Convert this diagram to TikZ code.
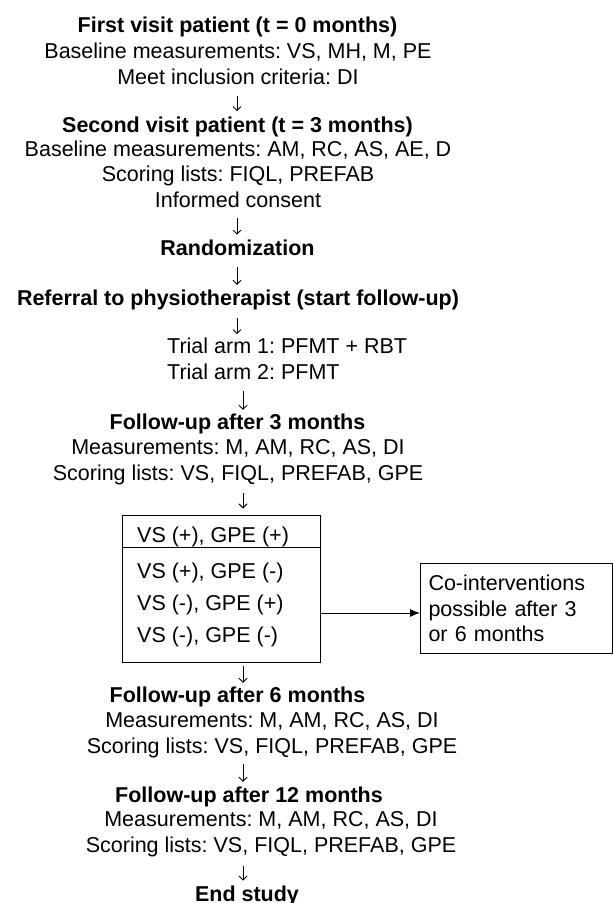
\documentclass[tikz,border=0pt]{standalone}
\usepackage{fontspec}
\setmainfont{Liberation Sans}
\usetikzlibrary{arrows.meta}
\frenchspacing

\newcommand{\flowfont}{\fontsize{21.5}{25.3}\selectfont}

\tikzset{
  head/.style={font=\flowfont\bfseries, inner sep=0pt, anchor=base},
  info/.style={font=\flowfont, align=center, inner sep=0pt, anchor=base},
  row/.style={font=\flowfont, inner sep=0pt, anchor=base west},
  darrow/.style={-{Straight Barb[length=4pt,width=8pt]}, line width=0.9pt},
}

\begin{document}
\begin{tikzpicture}[x=1pt, y=-1pt]
  \useasboundingbox (0,0) rectangle (613,903);

  % visits before randomization (multi-line nodes sit on their last line)
  \node[head] (visit1) at (237.5,32) {First visit patient (t = 0 months)};
  \node[info] (visit1m) at (238,84) {Baseline measurements: VS, MH, M, PE\\Meet inclusion criteria: DI};
  \node[head] (visit2) at (237.5,132) {Second visit patient (t = 3 months)};
  \node[info] (visit2m) at (238,207) {Baseline measurements: AM, RC, AS, AE, D\\Scoring lists: FIQL, PREFAB\\Informed consent};
  \node[head] (rand) at (237.5,255) {Randomization};
  \node[head] (refer) at (238,305) {Referral to physiotherapist (start follow-up)};
  \node[font=\flowfont, align=left, inner sep=0pt, anchor=base west] (arms) at (167,379) {Trial arm 1: PFMT + RBT\\Trial arm 2: PFMT};

  % follow-up 3 months
  \node[head] (fu3) at (237.5,429) {Follow-up after 3 months};
  \node[info] (fu3m) at (238,480) {Measurements: M, AM, RC, AS, DI\\Scoring lists: VS, FIQL, PREFAB, GPE};

  % outcome groups
  \node[draw, line width=1pt, minimum width=198pt, minimum height=147pt, inner sep=0pt] (grp) at (221,588.5) {};
  \node[row] (row1) at (137,542) {VS (+), GPE (+)};
  \node[row] (row2) at (137,578) {VS (+), GPE (-)};
  \node[row] (row3) at (137,610) {VS (-), GPE (+)};
  \node[row] (row4) at (137,642) {VS (-), GPE (-)};
  \draw[line width=1pt] (grp.west |- 0,547) -- (grp.east |- 0,547);

  \node[draw, line width=1pt, font=\flowfont, align=left, text width=176pt, inner xsep=8pt,
        minimum height=90pt, anchor=north west] (co) at (420,563)
        {Co-interventions\\possible after 3\\or 6 months};
  \draw[line width=1pt, -{Latex[length=10pt,width=8pt]}] (grp.east |- 0,613) -- (co.west |- 0,613);

  % later follow-up
  \node[head] (fu6) at (237.5,702) {Follow-up after 6 months};
  \node[info] (fu6m) at (272,753) {Measurements: M, AM, RC, AS, DI\\Scoring lists: VS, FIQL, PREFAB, GPE};
  \node[head] (fu12) at (249,802) {Follow-up after 12 months};
  \node[info] (fu12m) at (271,852) {Measurements: M, AM, RC, AS, DI\\Scoring lists: VS, FIQL, PREFAB, GPE};
  \node[head] (endst) at (247,901) {End study};

  % arrows
  \draw[darrow, shorten <=12pt, shorten >=5pt] (visit1m.south -| 237,0) -- (visit2.north -| 237,0);
  \draw[darrow, shorten <=11pt, shorten >=4.5pt] (visit2m.south -| 237,0) -- (rand.north -| 237,0);
  \draw[darrow, shorten <=12pt, shorten >=4.4pt] (rand.south -| 237,0) -- (refer.north -| 237,0);
  \draw[darrow, shorten <=8pt, shorten >=3.7pt] (refer.south -| 237,0) -- (arms.north -| 237,0);
  \draw[darrow, shorten <=12pt, shorten >=3.4pt] (arms.south -| 243,0) -- (fu3.north -| 243,0);
  \draw[darrow, shorten <=8pt, shorten >=6pt] (fu3m.south -| 243,0) -- (grp.north -| 243,0);
  \draw[darrow, shorten <=3pt, shorten >=3.4pt] (grp.south -| 243,0) -- (fu6.north -| 243,0);
  \draw[darrow, shorten <=6pt, shorten >=4.4pt] (fu6m.south -| 243,0) -- (fu12.north -| 243,0);
  \draw[darrow, shorten <=9pt, shorten >=4.7pt] (fu12m.south -| 243,0) -- (endst.north -| 243,0);
\end{tikzpicture}
\end{document}
